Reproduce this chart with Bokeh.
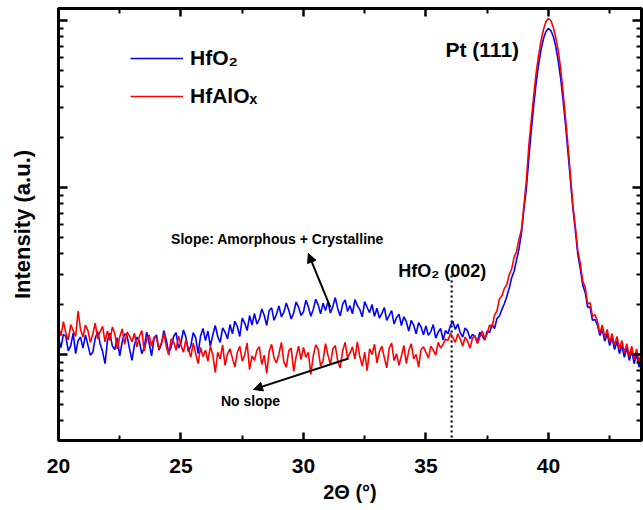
import numpy as np
from bokeh.plotting import figure
from bokeh.models import (Range1d, LinearAxis, LogAxis, FixedTicker, CustomJSTickFormatter,
                          Legend, LegendItem, Label, Arrow, NormalHead)
from bokeh.embed import file_html
from bokeh.resources import INLINE

# 2-theta sampling (degrees)
two_theta = np.round(np.arange(20.0, 43.85, 0.1), 1)

# HfO2 intensity (a.u.)
hfo2 = [
    124, 110, 132, 128, 105, 113, 134, 101, 121, 127,
    109, 131, 114, 99, 103, 125, 137, 116, 104, 88,
    121, 134, 112, 107, 126, 98, 119, 133, 129, 108,
    92, 114, 127, 120, 101, 110, 136, 117, 98, 124,
    131, 106, 115, 139, 122, 102, 111, 128, 135, 109,
    118, 140, 127, 104, 112, 135, 126, 101, 129, 143,
    121, 138, 112, 131, 149, 128, 118, 144, 136, 124,
    151, 133, 158, 147, 128, 165, 154, 139, 171, 150,
    176, 152, 163, 187, 171, 149, 183, 190, 160, 174,
    195, 168, 179, 203, 184, 163, 177, 206, 192, 171,
    180, 211, 193, 169, 186, 214, 198, 175, 203, 183,
    207, 177, 194, 219, 188, 170, 200, 212, 181, 196,
    175, 213, 196, 186, 168, 207, 191, 178, 199, 169,
    189, 165, 176, 191, 160, 171, 183, 152, 166, 174,
    149, 168, 157, 138, 160, 150, 133, 155, 146, 131,
    148, 130, 137, 151, 125, 136, 143, 122, 139, 133,
    149, 158, 141, 152, 135, 127, 144, 138, 124, 132,
    128, 119, 136, 129, 122, 138, 135, 151, 143, 164,
    170, 186, 201, 222, 250, 288, 315, 368, 430, 535,
    740, 986, 1490, 2190, 3100, 4250, 5460, 6700, 7800, 8590,
    8960, 8710, 8020, 6980, 5750, 4500, 3320, 2350, 1620, 1100,
    748, 552, 396, 328, 260, 236, 192, 192, 160, 162,
    150, 130, 141, 120, 133, 113, 126, 107, 120, 101,
    113, 96, 110, 92, 105, 88, 100, 84, 97,
]

# HfAlOx intensity (a.u.)
hfalox = [
    146, 129, 157, 135, 122, 151, 139, 128, 182, 141,
    127, 150, 139, 118, 132, 154, 124, 137, 147, 119,
    138, 121, 146, 133, 108, 127, 142, 115, 136, 129,
    119, 134, 111, 128, 139, 105, 123, 131, 112, 127,
    126, 108, 117, 133, 112, 99, 124, 119, 106, 129,
    114, 103, 122, 108, 96, 117, 101, 88, 110, 97,
    106, 91, 112, 99, 78, 103, 94, 114, 86, 101,
    108, 95, 84, 103, 112, 91, 99, 117, 81, 98,
    92, 106, 111, 87, 99, 77, 104, 115, 95, 89,
    101, 118, 90, 84, 105, 109, 79, 97, 112, 93,
    110, 96, 103, 76, 98, 114, 107, 85, 92, 116,
    99, 87, 108, 113, 91, 83, 105, 118, 95, 102,
    111, 94, 119, 97, 85, 103, 80, 108, 100, 115,
    89, 104, 112, 96, 83, 109, 117, 92, 101, 86,
    98, 113, 88, 105, 116, 94, 100, 84, 107, 111,
    103, 95, 112, 106, 99, 118, 109, 115, 124, 121,
    134, 126, 118, 133, 124, 112, 127, 120, 109, 125,
    130, 116, 127, 138, 124, 133, 150, 146, 172, 182,
    215, 224, 248, 262, 300, 325, 382, 415, 490, 560,
    780, 1100, 1780, 2520, 3550, 4880, 6170, 7590, 8830, 9860,
    10280, 10000, 9080, 7910, 6610, 5160, 3700, 2590, 1780, 1180,
    780, 582, 418, 352, 274, 254, 200, 204, 169, 173,
    158, 134, 150, 126, 141, 118, 133, 113, 128, 108,
    121, 102, 116, 97, 112, 93, 108, 90, 104,
]

series_names = ["HfO₂", "HfAlOₓ"]
series_colors = ["#0000ff", "#ff0000"]

x_major = [20, 25, 30, 35, 40]
x_minor = [22.5, 27.5, 32.5, 37.5, 42.5]
y_major = [100, 1000, 10000]
y_minor = [m * d for d in (10, 100, 1000) for m in range(2, 10)]

hfo2_002_pos = 36.05

FONT = "Liberation Sans"

p = figure(width=643, height=510, x_range=Range1d(20, 43.8), y_range=Range1d(30.5, 11800),
           y_axis_type="log", output_backend="svg", toolbar_location=None,
           min_border_left=58, min_border_right=2, min_border_top=8, min_border_bottom=70)
p.background_fill_color = "white"
p.border_fill_color = "white"
p.outline_line_color = "black"
p.outline_line_width = 3
p.grid.visible = False

empty = CustomJSTickFormatter(code="return ''")


def style_axis(ax, major, minor, tin, min_in):
    ax.ticker = FixedTicker(ticks=major, minor_ticks=minor)
    ax.axis_line_width = 3
    ax.axis_line_color = "black"
    ax.major_tick_line_color = "black"
    ax.minor_tick_line_color = "black"
    ax.major_tick_in = tin
    ax.major_tick_out = 0
    ax.minor_tick_in = min_in
    ax.minor_tick_out = 0
    ax.major_tick_line_width = 2.5
    ax.minor_tick_line_width = 2
    ax.major_label_text_color = "black"
    ax.axis_label_text_color = "black"


xa = p.xaxis[0]
style_axis(xa, x_major, x_minor, 8, 5)
xa.major_label_text_font = FONT
xa.major_label_text_font_style = "bold"
xa.major_label_text_font_size = "21px"
xa.major_label_standoff = 18
xa.axis_label = "2Θ (°)"
xa.axis_label_text_font = FONT
xa.axis_label_text_font_style = "bold"
xa.axis_label_text_font_size = "20px"
xa.axis_label_standoff = 5

ya = p.yaxis[0]
style_axis(ya, y_major, y_minor, 9, 5)
ya.formatter = empty
ya.major_label_standoff = 0
ya.axis_label = "Intensity (a.u.)"
ya.axis_label_text_font = FONT
ya.axis_label_text_font_style = "bold"
ya.axis_label_text_font_size = "22px"
ya.axis_label_standoff = 24

top = LinearAxis(formatter=empty, major_label_standoff=0)
style_axis(top, x_major, x_minor, 8, 5)
p.add_layout(top, "above")

right = LogAxis(formatter=empty, major_label_standoff=0)
style_axis(right, y_major, y_minor, 9, 5)
p.add_layout(right, "right")

# reference line for HfO2 (002)
p.segment(x0=[hfo2_002_pos], y0=[297], x1=[hfo2_002_pos], y1=[30.5],
          line_color="black", line_width=2.2, line_dash="2 3")

r_b = p.line(two_theta, hfo2, color=series_colors[0], line_width=1.6)
r_r = p.line(two_theta, hfalox, color=series_colors[1], line_width=1.6)

legend = Legend(items=[LegendItem(label=series_names[0], renderers=[r_b]),
                       LegendItem(label=series_names[1], renderers=[r_r])],
                location=(72, 332), border_line_alpha=0, background_fill_alpha=0,
                glyph_width=53, glyph_height=22, label_height=22, spacing=14,
                padding=0, margin=0, label_standoff=7,
                label_text_font=FONT, label_text_font_style="bold",
                label_text_font_size="21px", label_text_color="black")
p.add_layout(legend)


def add_label(x, y, text, size):
    p.add_layout(Label(x=x, y=y, text=text, text_align="center", text_baseline="middle",
                       text_font=FONT, text_font_style="bold", text_font_size=size,
                       text_color="black"))


add_label(37.3, 6700, "Pt (111)", "21px")
add_label(35.67, 314, "HfO₂ (002)", "18px")
add_label(28.94, 488, "Slope: Amorphous + Crystalline", "14px")
add_label(27.84, 52.3, "No slope", "14px")

p.add_layout(Arrow(end=NormalHead(size=9, fill_color="black", line_color="black"),
                   x_start=31.10, y_start=191, x_end=30.20, y_end=402,
                   line_width=2, line_color="black"))
p.add_layout(Arrow(end=NormalHead(size=9, fill_color="black", line_color="black"),
                   x_start=31.84, y_start=94.6, x_end=27.96, y_end=61.7,
                   line_width=2, line_color="black"))

open("out.html", "w").write(file_html(p, INLINE))
